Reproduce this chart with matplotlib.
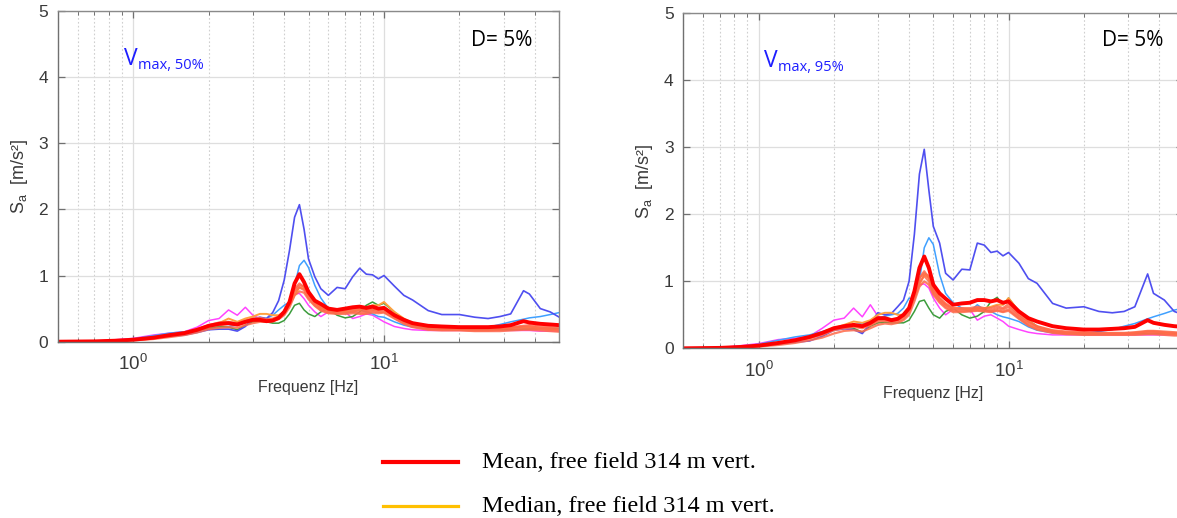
import matplotlib
matplotlib.use("Agg")
import matplotlib.pyplot as plt
from matplotlib.lines import Line2D
from matplotlib.ticker import LogLocator, NullFormatter, LogFormatterSciNotation

plt.rcParams['font.family'] = ['Liberation Sans', 'DejaVu Sans']
plt.rcParams['mathtext.default'] = 'regular'

# ---------------- data ----------------
freq = [0.5, 0.7, 0.85, 1.0, 1.2, 1.4, 1.6, 1.8, 2.0, 2.2,
        2.4, 2.6, 2.8, 3.0, 3.2, 3.4, 3.6, 3.8, 4.0, 4.2,
        4.4, 4.6, 4.8, 5.0, 5.3, 5.6, 6.0, 6.5, 7.0, 7.5,
        8.0, 8.5, 9.0, 9.5, 10, 11, 12, 13, 15, 17,
        20, 23, 26, 29, 32, 36, 38, 42, 46, 50]

# ----- left panel (Vmax, 50%) -----
L_blue = [0.00, 0.005, 0.015, 0.03, 0.06, 0.08, 0.10, 0.14, 0.18, 0.19,
          0.19, 0.16, 0.23, 0.34, 0.37, 0.35, 0.44, 0.62, 0.93, 1.38,
          1.88, 2.07, 1.70, 1.25, 0.98, 0.80, 0.70, 0.82, 0.80, 0.98,
          1.11, 1.02, 1.01, 0.95, 1.00, 0.84, 0.70, 0.63, 0.47, 0.41,
          0.41, 0.37, 0.35, 0.38, 0.42, 0.77, 0.72, 0.50, 0.45, 0.37]
L_lightblue = [0.00, 0.005, 0.02, 0.04, 0.09, 0.13, 0.15, 0.18, 0.20, 0.22,
               0.23, 0.25, 0.30, 0.35, 0.36, 0.35, 0.40, 0.48, 0.55, 0.60,
               0.85, 1.15, 1.23, 1.12, 0.85, 0.66, 0.50, 0.48, 0.45, 0.45,
               0.48, 0.45, 0.42, 0.38, 0.37, 0.30, 0.25, 0.22, 0.20, 0.20,
               0.20, 0.21, 0.22, 0.26, 0.30, 0.34, 0.36, 0.38, 0.41, 0.44]
L_magenta = [0.00, 0.01, 0.03, 0.05, 0.10, 0.13, 0.15, 0.22, 0.32, 0.35,
             0.48, 0.40, 0.52, 0.40, 0.35, 0.30, 0.33, 0.38, 0.45, 0.60,
             0.72, 0.73, 0.65, 0.55, 0.45, 0.38, 0.45, 0.47, 0.45, 0.35,
             0.38, 0.42, 0.40, 0.35, 0.30, 0.23, 0.20, 0.18, 0.17, 0.17,
             0.17, 0.17, 0.17, 0.17, 0.17, 0.17, 0.17, 0.16, 0.16, 0.16]
L_green = [0.00, 0.005, 0.015, 0.03, 0.06, 0.10, 0.13, 0.16, 0.20, 0.23,
           0.22, 0.18, 0.25, 0.30, 0.31, 0.30, 0.28, 0.28, 0.32, 0.42,
           0.55, 0.58, 0.48, 0.42, 0.38, 0.45, 0.50, 0.40, 0.36, 0.38,
           0.45, 0.55, 0.60, 0.55, 0.58, 0.45, 0.30, 0.25, 0.20, 0.19,
           0.18, 0.18, 0.18, 0.18, 0.18, 0.19, 0.19, 0.20, 0.20, 0.20]
L_orange = [0.00, 0.005, 0.015, 0.03, 0.06, 0.10, 0.13, 0.18, 0.24, 0.28,
            0.35, 0.30, 0.35, 0.38, 0.42, 0.42, 0.40, 0.40, 0.45, 0.55,
            0.70, 0.82, 0.80, 0.72, 0.60, 0.50, 0.48, 0.46, 0.45, 0.46,
            0.48, 0.52, 0.55, 0.55, 0.60, 0.45, 0.35, 0.28, 0.22, 0.20,
            0.20, 0.20, 0.20, 0.20, 0.21, 0.22, 0.22, 0.20, 0.19, 0.18]
L_coral1 = [0.00, 0.005, 0.015, 0.03, 0.06, 0.10, 0.13, 0.18, 0.24, 0.27,
            0.28, 0.26, 0.30, 0.33, 0.34, 0.32, 0.33, 0.36, 0.44, 0.58,
            0.80, 0.88, 0.82, 0.70, 0.58, 0.52, 0.46, 0.45, 0.47, 0.48,
            0.47, 0.46, 0.48, 0.47, 0.48, 0.38, 0.30, 0.25, 0.21, 0.20,
            0.19, 0.19, 0.19, 0.20, 0.21, 0.23, 0.23, 0.21, 0.20, 0.19]
L_coral2 = [0.00, 0.005, 0.012, 0.025, 0.05, 0.09, 0.12, 0.17, 0.22, 0.25,
            0.27, 0.25, 0.29, 0.32, 0.33, 0.31, 0.32, 0.35, 0.42, 0.55,
            0.75, 0.82, 0.78, 0.66, 0.55, 0.48, 0.44, 0.43, 0.44, 0.45,
            0.44, 0.44, 0.46, 0.45, 0.45, 0.36, 0.28, 0.23, 0.19, 0.18,
            0.18, 0.17, 0.17, 0.18, 0.19, 0.20, 0.20, 0.19, 0.18, 0.17]
L_coral3 = [0.00, 0.004, 0.01, 0.02, 0.04, 0.07, 0.10, 0.14, 0.19, 0.21,
            0.22, 0.21, 0.25, 0.28, 0.30, 0.30, 0.31, 0.34, 0.40, 0.52,
            0.70, 0.76, 0.74, 0.64, 0.54, 0.47, 0.43, 0.42, 0.42, 0.43,
            0.42, 0.42, 0.44, 0.43, 0.44, 0.35, 0.27, 0.22, 0.18, 0.17,
            0.17, 0.16, 0.16, 0.16, 0.17, 0.18, 0.18, 0.17, 0.16, 0.15]
L_coral4 = [0.00, 0.005, 0.014, 0.03, 0.06, 0.10, 0.14, 0.19, 0.25, 0.29,
            0.30, 0.28, 0.32, 0.35, 0.36, 0.34, 0.35, 0.38, 0.46, 0.60,
            0.78, 0.85, 0.84, 0.72, 0.60, 0.54, 0.48, 0.46, 0.48, 0.50,
            0.50, 0.48, 0.50, 0.48, 0.52, 0.40, 0.31, 0.26, 0.22, 0.21,
            0.20, 0.20, 0.20, 0.21, 0.22, 0.24, 0.25, 0.23, 0.22, 0.21]
L_mean = [0.00, 0.005, 0.015, 0.03, 0.06, 0.10, 0.13, 0.18, 0.24, 0.27,
          0.28, 0.26, 0.30, 0.33, 0.33, 0.31, 0.32, 0.36, 0.45, 0.60,
          0.88, 1.02, 0.90, 0.75, 0.62, 0.57, 0.50, 0.48, 0.50, 0.52,
          0.53, 0.51, 0.53, 0.50, 0.51, 0.40, 0.33, 0.28, 0.24, 0.23,
          0.22, 0.22, 0.22, 0.23, 0.25, 0.31, 0.29, 0.27, 0.26, 0.25]

# ----- right panel (Vmax, 95%) -----
R_blue = [0.00, 0.006, 0.015, 0.03, 0.06, 0.09, 0.11, 0.18, 0.27, 0.29,
          0.28, 0.22, 0.37, 0.53, 0.50, 0.52, 0.62, 0.72, 1.00, 1.70,
          2.60, 2.97, 2.36, 1.82, 1.57, 1.12, 1.02, 1.18, 1.17, 1.57,
          1.54, 1.43, 1.45, 1.38, 1.43, 1.27, 1.04, 0.97, 0.67, 0.60,
          0.62, 0.55, 0.53, 0.55, 0.62, 1.11, 0.82, 0.72, 0.55, 0.50]
R_lightblue = [0.00, 0.008, 0.03, 0.06, 0.12, 0.17, 0.20, 0.25, 0.30, 0.33,
               0.35, 0.37, 0.40, 0.45, 0.48, 0.50, 0.52, 0.60, 0.75, 0.72,
               1.00, 1.50, 1.65, 1.55, 1.10, 0.82, 0.68, 0.60, 0.55, 0.65,
               0.57, 0.55, 0.50, 0.47, 0.45, 0.40, 0.32, 0.27, 0.23, 0.22,
               0.22, 0.25, 0.28, 0.33, 0.37, 0.44, 0.47, 0.52, 0.57, 0.60]
R_magenta = [0.00, 0.01, 0.04, 0.07, 0.13, 0.15, 0.18, 0.30, 0.42, 0.45,
             0.60, 0.47, 0.65, 0.48, 0.42, 0.40, 0.42, 0.50, 0.60, 0.80,
             0.95, 0.96, 0.90, 0.75, 0.60, 0.50, 0.58, 0.60, 0.58, 0.42,
             0.48, 0.50, 0.45, 0.40, 0.33, 0.28, 0.24, 0.22, 0.20, 0.20,
             0.20, 0.20, 0.20, 0.20, 0.20, 0.20, 0.20, 0.20, 0.20, 0.20]
R_green = [0.00, 0.006, 0.02, 0.04, 0.08, 0.12, 0.16, 0.22, 0.28, 0.32,
           0.30, 0.24, 0.33, 0.38, 0.39, 0.38, 0.38, 0.38, 0.42, 0.55,
           0.70, 0.72, 0.60, 0.50, 0.45, 0.55, 0.60, 0.50, 0.45, 0.48,
           0.55, 0.70, 0.76, 0.65, 0.75, 0.55, 0.42, 0.33, 0.25, 0.23,
           0.22, 0.22, 0.22, 0.22, 0.22, 0.22, 0.22, 0.22, 0.22, 0.22]
R_orange = [0.00, 0.006, 0.02, 0.04, 0.08, 0.12, 0.16, 0.22, 0.30, 0.35,
            0.40, 0.38, 0.42, 0.50, 0.53, 0.53, 0.50, 0.50, 0.58, 0.75,
            0.95, 1.10, 1.05, 0.90, 0.75, 0.65, 0.60, 0.59, 0.58, 0.59,
            0.60, 0.62, 0.65, 0.65, 0.75, 0.55, 0.42, 0.32, 0.26, 0.23,
            0.22, 0.22, 0.22, 0.22, 0.23, 0.25, 0.25, 0.23, 0.21, 0.20]
R_coral1 = [0.00, 0.006, 0.02, 0.04, 0.08, 0.12, 0.16, 0.22, 0.29, 0.32,
            0.34, 0.32, 0.36, 0.42, 0.43, 0.41, 0.42, 0.47, 0.57, 0.80,
            1.05, 1.15, 1.05, 0.85, 0.72, 0.65, 0.58, 0.58, 0.58, 0.60,
            0.58, 0.57, 0.60, 0.58, 0.62, 0.48, 0.38, 0.32, 0.26, 0.24,
            0.23, 0.22, 0.22, 0.22, 0.23, 0.25, 0.25, 0.24, 0.23, 0.22]
R_coral2 = [0.00, 0.005, 0.018, 0.035, 0.07, 0.11, 0.15, 0.20, 0.27, 0.30,
            0.32, 0.30, 0.34, 0.40, 0.41, 0.39, 0.40, 0.44, 0.54, 0.75,
            0.98, 1.08, 1.00, 0.82, 0.70, 0.62, 0.56, 0.56, 0.56, 0.57,
            0.56, 0.55, 0.57, 0.55, 0.58, 0.45, 0.35, 0.29, 0.24, 0.22,
            0.21, 0.21, 0.21, 0.21, 0.22, 0.23, 0.23, 0.22, 0.21, 0.20]
R_coral3 = [0.00, 0.004, 0.012, 0.025, 0.05, 0.08, 0.12, 0.16, 0.22, 0.26,
            0.27, 0.25, 0.30, 0.35, 0.37, 0.36, 0.38, 0.42, 0.50, 0.70,
            0.92, 1.00, 0.95, 0.80, 0.68, 0.60, 0.54, 0.54, 0.55, 0.56,
            0.55, 0.54, 0.56, 0.54, 0.56, 0.44, 0.34, 0.28, 0.23, 0.21,
            0.20, 0.20, 0.20, 0.20, 0.20, 0.21, 0.21, 0.20, 0.19, 0.19]
R_coral4 = [0.00, 0.006, 0.02, 0.04, 0.08, 0.12, 0.17, 0.23, 0.30, 0.33,
            0.35, 0.33, 0.37, 0.43, 0.45, 0.43, 0.44, 0.48, 0.58, 0.82,
            1.05, 1.12, 1.08, 0.88, 0.75, 0.67, 0.60, 0.60, 0.60, 0.62,
            0.60, 0.60, 0.63, 0.60, 0.66, 0.50, 0.40, 0.33, 0.27, 0.25,
            0.24, 0.23, 0.23, 0.23, 0.24, 0.26, 0.26, 0.25, 0.24, 0.23]
R_mean = [0.00, 0.006, 0.02, 0.04, 0.08, 0.12, 0.17, 0.23, 0.30, 0.33,
          0.35, 0.33, 0.38, 0.45, 0.45, 0.42, 0.44, 0.50, 0.60, 0.85,
          1.20, 1.37, 1.20, 0.95, 0.82, 0.74, 0.65, 0.67, 0.68, 0.72,
          0.72, 0.70, 0.72, 0.68, 0.70, 0.55, 0.45, 0.40, 0.33, 0.30,
          0.28, 0.28, 0.29, 0.30, 0.32, 0.42, 0.38, 0.35, 0.33, 0.32]

panel_subs = ['max, 50%', 'max, 95%']
damping_label = 'D= 5%'
x_label = 'Frequenz [Hz]'
y_label = r'$S_a$  [m/s²]'
legend_labels = ['Mean, free field 314 m vert.', 'Median, free field 314 m vert.']

# ---------------- styles ----------------
C_BLUE = '#4f4ff0'
C_LBLUE = '#3fa0ff'
C_MAG = '#ff44ff'
C_GREEN = '#3c9c3c'
C_ORANGE = '#ffa040'
C_CORAL = '#ff6a4a'
C_MEAN = '#ff0000'
TXT = '#3a3a3a'

W, H = 1177, 518
fig = plt.figure(figsize=(W / 100, H / 100), dpi=100)


def px_rect(x0, y0, x1, y1):
    return [x0 / W, 1 - y1 / H, (x1 - x0) / W, (y1 - y0) / H]


ax1 = fig.add_axes(px_rect(57.7, 10.7, 559.3, 341.7))
ax2 = fig.add_axes(px_rect(683.3, 13.3, 1183.3, 348.3))

panels = [
    (ax1, L_blue, L_lightblue, L_magenta, L_green, L_orange,
     [L_coral1, L_coral2, L_coral3, L_coral4], L_mean),
    (ax2, R_blue, R_lightblue, R_magenta, R_green, R_orange,
     [R_coral1, R_coral2, R_coral3, R_coral4], R_mean),
]

for i, (ax, blue, lblue, mag, green, orange, corals, mean) in enumerate(panels):
    ax.set_xscale('log')
    ax.plot(freq, mag, color=C_MAG, lw=1.1)
    ax.plot(freq, lblue, color=C_LBLUE, lw=1.1)
    ax.plot(freq, green, color=C_GREEN, lw=1.1)
    ax.plot(freq, blue, color=C_BLUE, lw=1.2)
    ax.plot(freq, orange, color=C_ORANGE, lw=1.4)
    for c in corals:
        ax.plot(freq, c, color=C_CORAL, lw=1.6, alpha=0.85)
    ax.plot(freq, mean, color=C_MEAN, lw=2.8, solid_capstyle='round')

    ax.set_xlim(0.5, 50)
    ax.set_ylim(0, 5)
    ax.set_yticks([0, 1, 2, 3, 4, 5])
    ax.xaxis.set_major_locator(LogLocator(base=10, numticks=10))
    ax.xaxis.set_minor_locator(LogLocator(base=10, subs=(2, 3, 4, 5, 6, 7, 8, 9), numticks=10))
    ax.xaxis.set_minor_formatter(NullFormatter())
    ax.xaxis.set_major_formatter(LogFormatterSciNotation())

    ax.grid(True, which='major', color='#dedede', lw=0.9, ls='-')
    ax.grid(True, which='minor', axis='x', color='#cfcfcf', lw=0.8, ls=(0, (1.5, 2)))
    ax.set_axisbelow(True)

    for s in ax.spines.values():
        s.set_color('#8a8a8a')
        s.set_linewidth(1.0)
    ax.spines['left'].set_color('#707070')
    ax.spines['bottom'].set_color('#707070')

    ax.tick_params(which='both', direction='in', top=True, right=True,
                   colors='#707070', labelcolor=TXT)
    ax.tick_params(axis='y', labelsize=12.5, pad=7)
    ax.tick_params(axis='x', labelsize=13.5, pad=9)
    ax.tick_params(which='major', length=5, width=0.9)
    ax.tick_params(which='minor', length=3, width=0.7)

    ax.set_xlabel(x_label, fontsize=11.5, color=TXT, labelpad=4)
    ax.set_ylabel(y_label, fontsize=13, color=TXT, labelpad=6)

# D= 5% (figure pixel positions, right edge)
for xr, yc in [(532, 40), (1163, 41)]:
    fig.text(xr / W, 1 - yc / H, damping_label, ha='right', va='center',
             fontsize=15, color='black', family='Open Sans')

# V max annotations
for (xv, yb), sub in zip([(124, 65), (764, 67)], panel_subs):
    fig.text(xv / W, 1 - yb / H, 'V', fontsize=16.5, color='#1e1eff',
             family='Open Sans', va='baseline')
    fig.text((xv + 14) / W, 1 - (yb + 4) / H, sub, fontsize=10.5, color='#1e1eff',
             family='Open Sans', va='baseline')

# legend below plots
leg_rows = [(462, C_MEAN, 3.0, legend_labels[0]), (506, '#ffc000', 2.3, legend_labels[1])]
for y, col, lw, lab in leg_rows:
    fig.add_artist(Line2D([383 / W, 458 / W], [1 - y / H, 1 - y / H], color=col, lw=lw,
                          transform=fig.transFigure))
    fig.text(482 / W, 1 - (y + 1) / H, lab, fontsize=17.5, family='Liberation Serif',
             va='center', ha='left', color='black')

fig.savefig('out.png', dpi=100)
